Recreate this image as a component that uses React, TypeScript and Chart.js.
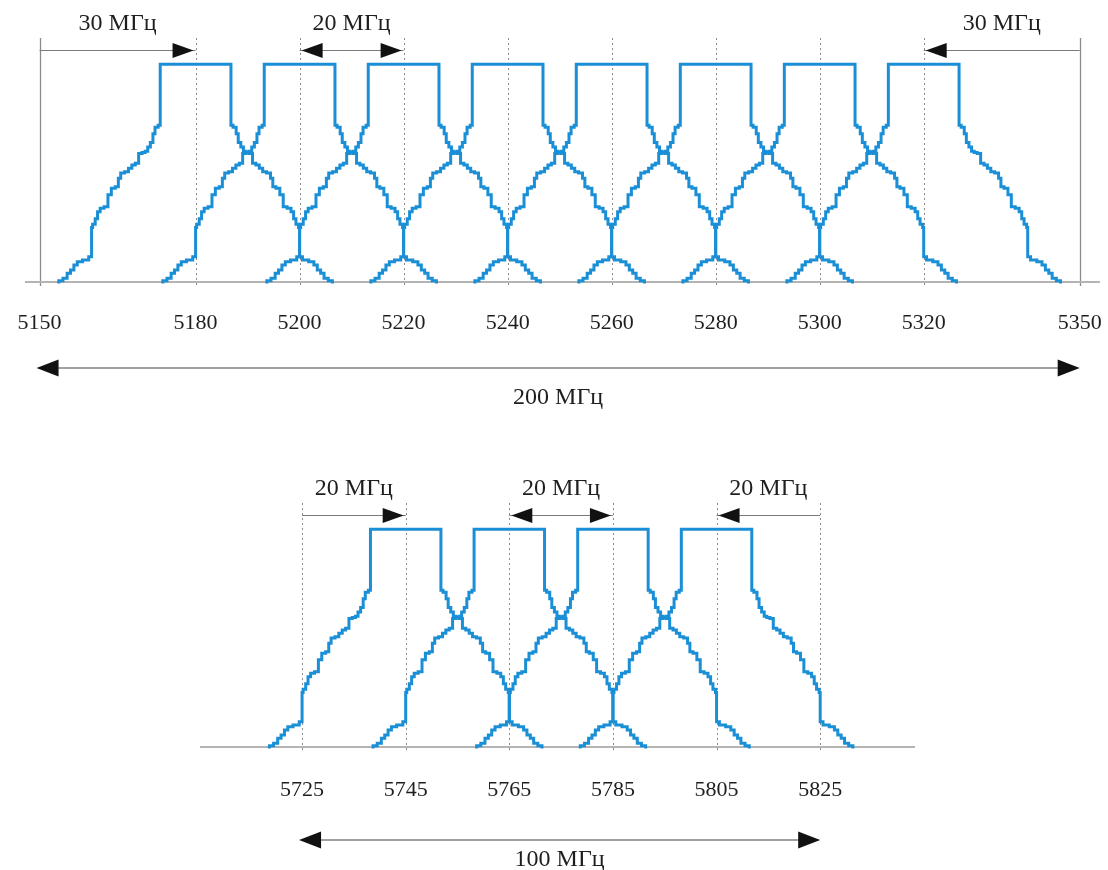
import React, { useEffect, useRef } from 'react';
import { Chart, registerables } from 'chart.js';

Chart.register(...registerables);

// ---------- data ----------
const topTicks = [5150, 5180, 5200, 5220, 5240, 5260, 5280, 5300, 5320, 5350];
const topChannels = [5180, 5200, 5220, 5240, 5260, 5280, 5300, 5320];
const topGuides = [5180, 5200, 5220, 5240, 5260, 5280, 5300, 5320];
const topEdges = [5150, 5350];
const topSpanFrom = [5150, 5200, 5350];
const topSpanTo = [5180, 5220, 5320];
const topSpanHeads = ['end', 'both', 'end'];
const topSpanLabels = ['30 МГц', '20 МГц', '30 МГц'];
const topBand = [5150, 5350];
const topBandLabel = '200 МГц';

const bottomTicks = [5725, 5745, 5765, 5785, 5805, 5825];
const bottomChannels = [5745, 5765, 5785, 5805];
const bottomGuides = [5725, 5745, 5765, 5785, 5805, 5825];
const bottomEdges: number[] = [];
const bottomSpanFrom = [5725, 5765, 5825];
const bottomSpanTo = [5745, 5785, 5805];
const bottomSpanHeads = ['end', 'both', 'end'];
const bottomSpanLabels = ['20 МГц', '20 МГц', '20 МГц'];
const bottomBand = [5725, 5825];
const bottomBandLabel = '100 МГц';

// spectral mask profile, one side: offset from channel centre (MHz) and relative level (top = 100)
const maskOffsets = [6.8, 6.8, 7.6, 8.0, 8.4, 9.0, 9.4, 10.0, 10.6, 11.3, 11.9, 12.6, 13.2, 14.1, 14.7, 15.0, 15.9, 16.5, 17.2, 18.0, 18.7, 19.0, 19.6, 20.0, 20.0, 21.1, 22.4, 23.1, 23.7, 24.4, 25.0, 26.0, 26.6];
const maskLevels = [100, 72, 71, 68, 64, 62, 60, 59.5, 59, 54.5, 53.7, 52.2, 50.6, 50, 47.6, 43.7, 43, 40, 34.5, 33.8, 32.2, 29, 26.5, 25, 11.6, 10.1, 9.3, 7.8, 5.5, 4, 1.7, 0.6, 0];

// ---------- styling ----------
const BLUE = '#1b8fd6';
const TEXT = '#1e1e1e';
const SERIF = '"Liberation Serif", "Times New Roman", serif';

function maskPoints(center: number) {
  const left = maskOffsets.map((o, i) => ({ x: center - o, y: maskLevels[i] })).reverse();
  const right = maskOffsets.map((o, i) => ({ x: center + o, y: maskLevels[i] }));
  return [...left, ...right];
}

type Spec = {
  height: number;
  min: number;
  max: number;
  padding: { left: number; right: number; top: number; bottom: number };
  axisHeight: number;
  tickGap: number;
  ticks: number[];
  channels: number[];
  guides: number[];
  edges: number[];
  spanFrom: number[];
  spanTo: number[];
  spanHeads: string[];
  spanLabels: string[];
  band: number[];
  bandLabel: string;
  bandOffset: number;
  bandLabelOffset: number;
};

const topSpec: Spec = {
  height: 430,
  min: 5147.2,
  max: 5353.9,
  padding: { left: 25, right: 8, top: 38, bottom: 0 },
  axisHeight: 148,
  tickGap: 28,
  ticks: topTicks,
  channels: topChannels,
  guides: topGuides,
  edges: topEdges,
  spanFrom: topSpanFrom,
  spanTo: topSpanTo,
  spanHeads: topSpanHeads,
  spanLabels: topSpanLabels,
  band: topBand,
  bandLabel: topBandLabel,
  bandOffset: 86,
  bandLabelOffset: 116,
};

const bottomSpec: Spec = {
  height: 440,
  min: 5705.3,
  max: 5843.3,
  padding: { left: 200, right: 193, top: 73, bottom: 0 },
  axisHeight: 123,
  tickGap: 30,
  ticks: bottomTicks,
  channels: bottomChannels,
  guides: bottomGuides,
  edges: bottomEdges,
  spanFrom: bottomSpanFrom,
  spanTo: bottomSpanTo,
  spanHeads: bottomSpanHeads,
  spanLabels: bottomSpanLabels,
  band: bottomBand,
  bandLabel: bottomBandLabel,
  bandOffset: 93,
  bandLabelOffset: 113,
};

function head(ctx: CanvasRenderingContext2D, tipX: number, y: number, dir: number, L: number, H: number) {
  ctx.beginPath();
  ctx.moveTo(tipX, y);
  ctx.lineTo(tipX - dir * L, y - H);
  ctx.lineTo(tipX - dir * L, y + H);
  ctx.closePath();
  ctx.fill();
}

function decorPlugin(spec: Spec) {
  return {
    id: 'decor',
    beforeDatasetsDraw(chart: any) {
      const { ctx, chartArea: a, scales } = chart;
      const x = scales.x;
      const y = scales.y;
      ctx.save();
      // dotted guides
      ctx.strokeStyle = '#8a8a8a';
      ctx.lineWidth = 1;
      ctx.setLineDash([2, 3]);
      spec.guides.forEach((v) => {
        const px = Math.round(x.getPixelForValue(v)) + 0.5;
        ctx.beginPath();
        ctx.moveTo(px, a.top);
        ctx.lineTo(px, a.bottom + 3);
        ctx.stroke();
      });
      // solid edges
      ctx.setLineDash([]);
      ctx.strokeStyle = '#8a8a8a';
      ctx.lineWidth = 1.3;
      spec.edges.forEach((v) => {
        const px = Math.round(x.getPixelForValue(v)) + 0.5;
        ctx.beginPath();
        ctx.moveTo(px, a.top);
        ctx.lineTo(px, a.bottom + 4);
        ctx.stroke();
      });
      // baseline
      const y0 = y.getPixelForValue(0);
      ctx.strokeStyle = '#b4b4b4';
      ctx.lineWidth = 2;
      ctx.beginPath();
      ctx.moveTo(a.left, y0);
      ctx.lineTo(a.right, y0);
      ctx.stroke();
      ctx.restore();
    },
    afterDatasetsDraw(chart: any) {
      const { ctx, chartArea: a, scales } = chart;
      const x = scales.x;
      ctx.save();
      ctx.font = `24px ${SERIF}`;
      ctx.textAlign = 'center';
      ctx.textBaseline = 'middle';
      // spans above the chart
      const ay = a.top + 12.5;
      const ty = a.top - 14;
      spec.spanFrom.forEach((from, i) => {
        const x1 = x.getPixelForValue(from);
        const x2 = x.getPixelForValue(spec.spanTo[i]);
        const dir = x2 > x1 ? 1 : -1;
        ctx.strokeStyle = '#7a7a7a';
        ctx.lineWidth = 1;
        ctx.beginPath();
        ctx.moveTo(x1, ay);
        ctx.lineTo(x2, ay);
        ctx.stroke();
        ctx.fillStyle = '#111';
        head(ctx, x2 - dir * 2, ay, dir, 21, 7.5);
        if (spec.spanHeads[i] === 'both') head(ctx, x1 + dir * 2, ay, -dir, 21, 7.5);
        ctx.fillStyle = TEXT;
        ctx.fillText(spec.spanLabels[i], (x1 + x2) / 2, ty);
      });
      // total band below the axis
      const by = a.bottom + spec.bandOffset;
      const bx1 = x.getPixelForValue(spec.band[0]) - 3;
      const bx2 = x.getPixelForValue(spec.band[1]);
      ctx.strokeStyle = '#a0a0a0';
      ctx.lineWidth = 2;
      ctx.beginPath();
      ctx.moveTo(bx1 + 4, by);
      ctx.lineTo(bx2 - 4, by);
      ctx.stroke();
      ctx.fillStyle = '#111';
      head(ctx, bx1, by, -1, 22, 8.5);
      head(ctx, bx2, by, 1, 22, 8.5);
      ctx.fillStyle = TEXT;
      ctx.fillText(spec.bandLabel, (bx1 + bx2) / 2, a.bottom + spec.bandLabelOffset);
      ctx.restore();
    },
  };
}

function makeConfig(spec: Spec): any {
  return {
    type: 'line',
    data: {
      datasets: spec.channels.map((c) => ({
        data: maskPoints(c),
        borderColor: BLUE,
        borderWidth: 3,
        pointRadius: 0,
        stepped: 'middle',
        fill: false,
        clip: false,
        borderJoinStyle: 'miter',
      })),
    },
    options: {
      responsive: false,
      animation: false,
      events: [],
      layout: { padding: spec.padding },
      plugins: {
        legend: { display: false },
        tooltip: { enabled: false },
        title: { display: false },
      },
      scales: {
        x: {
          type: 'linear',
          min: spec.min,
          max: spec.max,
          afterBuildTicks: (s: any) => {
            s.ticks = spec.ticks.map((v) => ({ value: v }));
          },
          afterFit: (s: any) => {
            s.height = spec.axisHeight;
          },
          grid: {
            display: true,
            drawOnChartArea: false,
            drawTicks: true,
            tickLength: spec.tickGap,
            tickColor: 'rgba(0,0,0,0)',
            color: 'rgba(0,0,0,0)',
          },
          border: { display: false },
          ticks: {
            padding: 0,
            autoSkip: false,
            maxRotation: 0,
            minRotation: 0,
            color: TEXT,
            font: { family: SERIF, size: 22 },
            callback: (v: any) => String(v),
          },
        },
        y: { display: false, min: 0, max: 112 },
      },
    },
    plugins: [decorPlugin(spec)],
  };
}

function ChartCanvas({ spec }: { spec: Spec }) {
  const ref = useRef<HTMLCanvasElement | null>(null);
  useEffect(() => {
    if (!ref.current) return;
    const chart = new Chart(ref.current, makeConfig(spec));
    return () => chart.destroy();
  }, [spec]);
  return (
    <canvas
      ref={ref}
      width={1108}
      height={spec.height}
      style={{ display: 'block', width: 1108, height: spec.height }}
    />
  );
}

export default function App() {
  return (
    <div style={{ position: 'absolute', left: 0, top: 0, width: 1108, height: 870, background: '#fff' }}>
      <ChartCanvas spec={topSpec} />
      <ChartCanvas spec={bottomSpec} />
    </div>
  );
}
